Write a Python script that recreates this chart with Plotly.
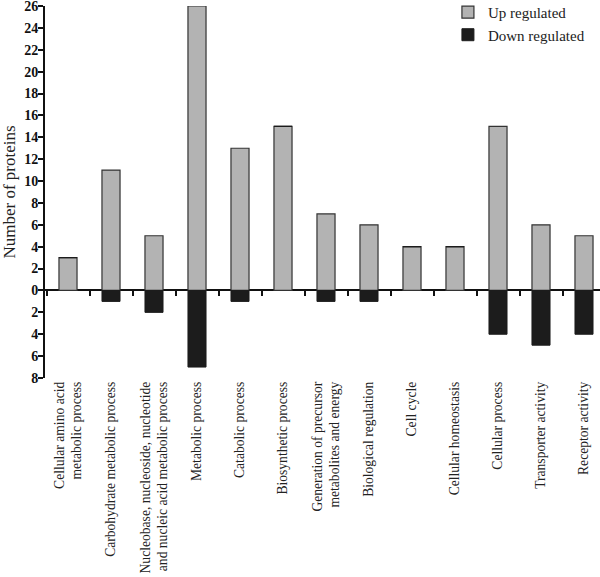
import plotly.graph_objects as go

categories = [
    "Cellular amino acid<br>metabolic process",
    "Carbohydrate metabolic process",
    "Nucleobase, nucleoside, nucleotide<br>and nucleic acid metabolic process",
    "Metabolic process",
    "Catabolic process",
    "Biosynthetic process",
    "Generation of precursor<br>metabolites and energy",
    "Biological regulation",
    "Cell cycle",
    "Cellular homeostasis",
    "Cellular process",
    "Transporter activity",
    "Receptor activity",
]
up_regulated = [3, 11, 5, 26, 13, 15, 7, 6, 4, 4, 15, 6, 5]
down_regulated = [0, 1, 2, 7, 1, 0, 1, 1, 0, 0, 4, 5, 4]
y_tickvals = [-8, -6, -4, -2, 0, 2, 4, 6, 8, 10, 12, 14, 16, 18, 20, 22, 24, 26]
y_ticktext = [str(abs(v)) for v in y_tickvals]

FONT = "Liberation Serif"
X_RANGE = [-0.535, 12.372]

fig = go.Figure()
fig.add_trace(go.Bar(
    x=categories, y=up_regulated, name="Up regulated",
    marker=dict(color="#b3b3b3", line=dict(color="#333333", width=1.2)),
    width=0.42,
))
fig.add_trace(go.Bar(
    x=categories, y=[-v for v in down_regulated], name="Down regulated",
    marker=dict(color="#1c1c1c", line=dict(color="#1c1c1c", width=1)),
    width=0.42,
))
# invisible trace for boundary ticks on the zero line
fig.add_trace(go.Scatter(x=categories, y=[0] * len(categories), xaxis="x2",
                         mode="markers", marker=dict(opacity=0),
                         showlegend=False, hoverinfo="skip"))

zero_pos = 8 / 34

fig.update_layout(
    width=600, height=577,
    margin=dict(l=45, r=0, t=6, b=199, autoexpand=False),
    paper_bgcolor="white", plot_bgcolor="white",
    barmode="relative",
    font=dict(family=FONT, color="#222222", size=14),
    showlegend=True,
    legend=dict(x=0.726, y=1.027, xanchor="left", yanchor="top",
                font=dict(family=FONT, size=15, color="#222222"),
                bgcolor="rgba(0,0,0,0)", itemwidth=30, tracegroupgap=0),
    xaxis=dict(type="category", categoryorder="array", categoryarray=categories,
               range=X_RANGE, tickangle=-90, showline=False, ticks="",
               showgrid=False, zeroline=False, automargin=False,
               tickfont=dict(family=FONT, size=13.6, color="#222222")),
    xaxis2=dict(type="category", categoryorder="array", categoryarray=categories,
                range=X_RANGE, overlaying="x", anchor="free", position=zero_pos,
                side="bottom", ticks="outside", tickson="boundaries", ticklen=5,
                tickwidth=2, tickcolor="#111111", showticklabels=False,
                showline=False, showgrid=False, zeroline=False, automargin=False),
    yaxis=dict(range=[-8, 26], tickvals=y_tickvals, ticktext=y_ticktext,
               ticks="outside", ticklen=5, tickwidth=2, tickcolor="#111111",
               showline=True, linewidth=2, linecolor="#111111",
               showgrid=False, zeroline=True, zerolinecolor="#111111",
               zerolinewidth=2, automargin=False, ticklabeloverflow="allow",
               ticklabelstandoff=-3,
               tickfont=dict(family=FONT, size=14, color="#111111", weight="bold"),
               title=dict(text="Number of proteins",
                          font=dict(family=FONT, size=17, color="#222222"),
                          standoff=6)),
)

fig.write_html("out.html", post_script="document.body.style.margin='0';",
               config={"displayModeBar": False})
